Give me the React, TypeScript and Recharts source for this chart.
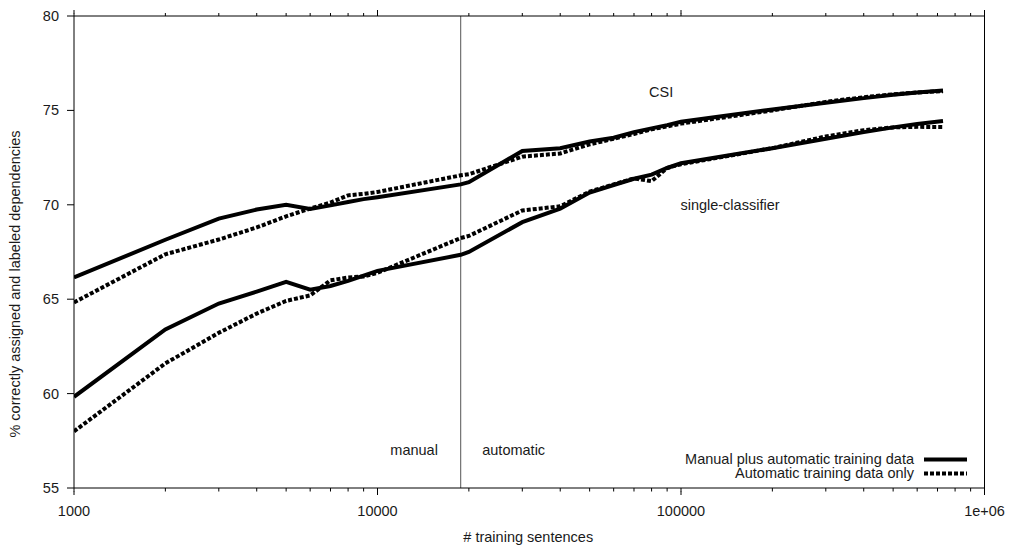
import {
  LineChart,
  Line,
  XAxis,
  YAxis,
  ReferenceLine,
  ReferenceDot,
  Legend,
} from "recharts";

// training set sizes (x) and accuracy readings for each run
const sentences = [
  1000, 2000, 3000, 4000, 5000, 6000, 7000, 8000, 9000, 10000, 18800, 20000,
  30000, 40000, 50000, 60000, 70000, 80000, 90000, 100000, 200000, 300000,
  400000, 500000, 600000, 730000,
];
const csiBoth = [
  66.15, 68.15, 69.27, 69.75, 70.0, 69.78, 69.97, 70.15, 70.3, 70.4, 71.08,
  71.2, 72.85, 73.0, 73.35, 73.55, 73.85, 74.05, 74.22, 74.4, 75.05, 75.4,
  75.65, 75.83, 75.95, 76.06,
];
const csiAuto = [
  64.83, 67.38, 68.16, 68.8, 69.39, 69.8, 70.12, 70.5, 70.58, 70.68, 71.56,
  71.62, 72.55, 72.72, 73.2, 73.5, 73.75, 74.0, 74.15, 74.3, 75.0, 75.45, 75.7,
  75.85, 75.95, 76.02,
];
const scBoth = [
  59.83, 63.4, 64.77, 65.4, 65.92, 65.5, 65.7, 65.97, 66.25, 66.5, 67.35, 67.5,
  69.08, 69.8, 70.65, 71.05, 71.38, 71.6, 71.95, 72.2, 73.0, 73.5, 73.85, 74.1,
  74.28, 74.44,
];
const scAuto = [
  58.0, 61.6, 63.22, 64.24, 64.91, 65.2, 66.0, 66.15, 66.2, 66.4, 68.24, 68.35,
  69.7, 69.92, 70.7, 71.08, 71.4, 71.25, 71.95, 72.15, 73.0, 73.62, 73.95,
  74.1, 74.13, 74.12,
];

const manualSize = 18800;

const majorX = [1000, 10000, 100000, 1000000];
const majorXLabels = ["1000", "10000", "100000", "1e+06"];
const minorX = [
  2000, 3000, 4000, 5000, 6000, 7000, 8000, 9000, 20000, 30000, 40000, 50000,
  60000, 70000, 80000, 90000, 200000, 300000, 400000, 500000, 600000, 700000,
  800000, 900000,
];
const yTicks = [55, 60, 65, 70, 75, 80];

const legendNames = [
  "Manual plus automatic training data",
  "Automatic training data only",
];

const rows = sentences.map((n, i) => ({
  n,
  csiBoth: csiBoth[i],
  csiAuto: csiAuto[i],
  scBoth: scBoth[i],
  scAuto: scAuto[i],
}));

const FONT = "'Liberation Sans', Arial, Helvetica, sans-serif";
const FS = 14.5;
const INK = "#1a1a1a";
const DOTS = "4 2";

const xTicks = [...majorX, ...minorX].sort((a, b) => a - b);
const tickStroke = { stroke: "#000", strokeWidth: 1 };

// bottom: built-in tick line is the short one, majors get an extra segment
function BottomTick(props: any) {
  const x = Number(props.x);
  const y = Number(props.y);
  const idx = majorX.indexOf(props.payload.value);
  if (idx < 0) return <g />;
  return (
    <g>
      <line x1={x} x2={x} y1={y - 0.5} y2={y + 3.5} stroke="#000" strokeWidth={1} />
      <text
        x={x}
        y={y + 24.5}
        textAnchor="middle"
        fontSize={FS}
        fontFamily={FONT}
        fill={INK}
      >
        {majorXLabels[idx]}
      </text>
    </g>
  );
}

function TopTick(props: any) {
  const x = Number(props.x);
  const y = Number(props.y);
  if (!majorX.includes(props.payload.value)) return <g />;
  return <line x1={x} x2={x} y1={y + 0.5} y2={y - 3} stroke="#000" strokeWidth={1} />;
}

function LeftTick(props: any) {
  return (
    <text
      x={Number(props.x)}
      y={Number(props.y) + 5}
      textAnchor="end"
      fontSize={FS}
      fontFamily={FONT}
      fill={INK}
    >
      {props.payload.value}
    </text>
  );
}

function LegendBox() {
  const dashes = [undefined, DOTS];
  return (
    <svg width={370} height={32}>
      {legendNames.map((name, i) => (
        <g key={name}>
          <text
            x={314}
            y={14 + i * 14}
            textAnchor="end"
            fontSize={FS}
            fontFamily={FONT}
            fill={INK}
          >
            {name}
          </text>
          <line
            x1={324}
            x2={367}
            y1={9.5 + i * 14}
            y2={9.5 + i * 14}
            stroke="#000"
            strokeWidth={4}
            strokeDasharray={dashes[i]}
          />
        </g>
      ))}
    </svg>
  );
}

const textLabel = (value: string) => ({
  value,
  position: "center" as const,
  fontSize: FS,
  fontFamily: FONT,
  fill: INK,
});

export default function App() {
  return (
    <div
      style={{
        position: "absolute",
        left: 0,
        top: 0,
        width: 1010,
        height: 548,
        background: "#fff",
      }}
    >
      <LineChart
        width={1010}
        height={548}
        data={rows}
        margin={{ top: 15, right: 24.5, left: 0, bottom: 0 }}
      >
        <XAxis
          xAxisId="b"
          dataKey="n"
          type="number"
          scale="log"
          domain={[1000, 1000000]}
          allowDataOverflow
          ticks={xTicks}
          interval={0}
          tickLine={tickStroke}
          tickSize={3.5}
          tickMargin={0}
          height={60}
          axisLine={{ stroke: "#000" }}
          tick={(p: any) => <BottomTick {...p} />}
          label={{
            content: ({ viewBox }: any) => (
              <text
                x={viewBox.x + viewBox.width / 2 - 1}
                y={viewBox.y + 54}
                textAnchor="middle"
                fontSize={FS}
                fontFamily={FONT}
                fill={INK}
              >
                # training sentences
              </text>
            ),
          }}
        />
        <XAxis
          xAxisId="t"
          orientation="top"
          dataKey="n"
          type="number"
          scale="log"
          domain={[1000, 1000000]}
          allowDataOverflow
          ticks={xTicks}
          interval={0}
          tickLine={tickStroke}
          tickSize={3}
          tickMargin={0}
          height={1}
          axisLine={{ stroke: "#000" }}
          tick={(p: any) => <TopTick {...p} />}
        />
        <YAxis
          yAxisId="l"
          type="number"
          domain={[55, 80]}
          ticks={yTicks}
          interval={0}
          width={74}
          tickLine={tickStroke}
          tickSize={7}
          tickMargin={8}
          axisLine={{ stroke: "#000" }}
          tick={(p: any) => <LeftTick {...p} />}
          label={{
            content: ({ viewBox }: any) => {
              const cx = viewBox.x + 15;
              const cy = viewBox.y + viewBox.height / 2 + 32;
              return (
                <text
                  x={cx}
                  y={cy}
                  transform={`rotate(-90 ${cx} ${cy})`}
                  textAnchor="middle"
                  dominantBaseline="central"
                  fontSize={FS}
                  fontFamily={FONT}
                  fill={INK}
                >
                  % correctly assigned and labeled dependencies
                </text>
              );
            },
          }}
        />
        <YAxis
          yAxisId="r"
          orientation="right"
          type="number"
          domain={[55, 80]}
          ticks={yTicks}
          interval={0}
          width={1}
          tickLine={tickStroke}
          tickSize={7}
          tickMargin={0}
          axisLine={{ stroke: "#000" }}
          tick={false}
        />

        <ReferenceLine
          xAxisId="b"
          yAxisId="l"
          x={manualSize}
          stroke="#555"
          strokeWidth={1}
        />

        <ReferenceDot xAxisId="b" yAxisId="l" x={86000} y={76.0} r={0} stroke="none" label={textLabel("CSI")} />
        <ReferenceDot xAxisId="b" yAxisId="l" x={145000} y={70.0} r={0} stroke="none" label={textLabel("single-classifier")} />
        <ReferenceDot xAxisId="b" yAxisId="l" x={13200} y={57.0} r={0} stroke="none" label={textLabel("manual")} />
        <ReferenceDot xAxisId="b" yAxisId="l" x={28100} y={57.0} r={0} stroke="none" label={textLabel("automatic")} />

        <Line xAxisId="b" yAxisId="l" type="linear" dataKey="csiBoth" name={legendNames[0]} stroke="#000" strokeWidth={4} dot={false} isAnimationActive={false} />
        <Line xAxisId="b" yAxisId="l" type="linear" dataKey="csiAuto" name={legendNames[1]} stroke="#000" strokeWidth={4} strokeDasharray={DOTS} dot={false} isAnimationActive={false} />
        <Line xAxisId="b" yAxisId="l" type="linear" dataKey="scBoth" legendType="none" stroke="#000" strokeWidth={4} dot={false} isAnimationActive={false} />
        <Line xAxisId="b" yAxisId="l" type="linear" dataKey="scAuto" legendType="none" stroke="#000" strokeWidth={4} strokeDasharray={DOTS} dot={false} isAnimationActive={false} />

        <Legend
          layout="horizontal"
          verticalAlign="middle"
          align="center"
          wrapperStyle={{ left: 600, top: 450, width: 370, height: 32 }}
          content={() => <LegendBox />}
        />
      </LineChart>
    </div>
  );
}
